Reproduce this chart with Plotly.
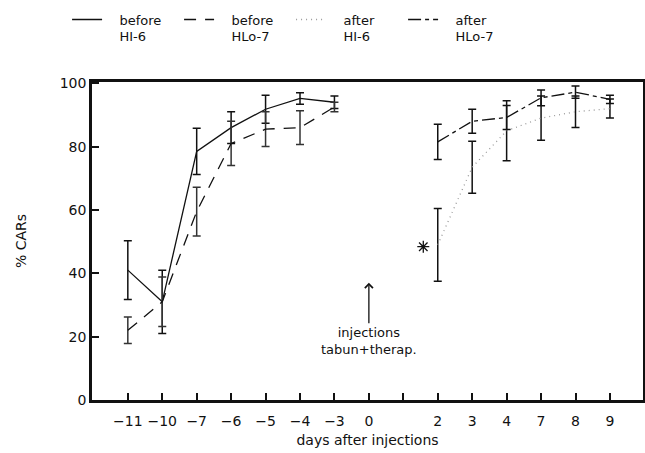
import plotly.graph_objects as go

# ---- data ----
tick_labels = ["−11", "−10", "−7", "−6", "−5", "−4", "−3", "0", "", "2", "3", "4", "7", "8", "9"]

before_days = ["−11", "−10", "−7", "−6", "−5", "−4", "−3"]
after_days = ["2", "3", "4", "7", "8", "9"]

before_hi6 = [41, 31, 78.5, 86, 91.8, 95.2, 94]
before_hi6_err = [9.3, 10, 7.3, 5, 4.4, 1.8, 2]

before_hlo7 = [22, 31, 59.5, 81, 85.5, 86, 92.5]
before_hlo7_err = [4.2, 7.8, 7.7, 7, 5.5, 5.3, 1.5]

after_hi6 = [49, 73.5, 85, 89, 91, 92]
after_hi6_err = [11.5, 8.2, 9.5, 7, 5, 3]

after_hlo7 = [81.5, 88, 89.2, 95.4, 97.2, 94.9]
after_hlo7_err = [5.6, 3.8, 3.8, 2.5, 1.9, 1.3]

series_names = [("before", "HI-6"), ("before", "HLo-7"), ("after", "HI-6"), ("after", "HLo-7")]

star_value = 48.4
star_day = "2"
star_shift = -0.42

injection_day = "0"
injection_arrow_value = 37
y_ticks = [0, 20, 40, 60, 80, 100]

# ---- positions derived from tick labels ----
tick_pos = list(range(len(tick_labels)))
bx = [tick_labels.index(d) for d in before_days]
axx = [tick_labels.index(d) for d in after_days]

FONT = "DejaVu Sans"
INK = "#111111"
PAD = "\u00a0\u00a0\u00a0"


def legend_name(pair):
    return PAD + pair[0] + "<br>" + PAD + pair[1]


def err(vals, color=INK):
    return dict(type="data", array=vals, visible=True, thickness=1.5,
                width=4, color=color)


fig = go.Figure()
fig.add_trace(go.Scatter(
    x=bx, y=before_hi6, mode="lines", name=legend_name(series_names[0]),
    line=dict(color=INK, width=1.3, dash="solid"),
    error_y=err(before_hi6_err)))
fig.add_trace(go.Scatter(
    x=bx, y=before_hlo7, mode="lines", name=legend_name(series_names[1]),
    line=dict(color=INK, width=1.3, dash="12px,9px"),
    error_y=err(before_hlo7_err, "#333333")))
fig.add_trace(go.Scatter(
    x=axx, y=after_hi6, mode="lines", name=legend_name(series_names[2]),
    line=dict(color="#9a9a9a", width=1.3, dash="1px,4px"),
    error_y=err(after_hi6_err)))
fig.add_trace(go.Scatter(
    x=axx, y=after_hlo7, mode="lines", name=legend_name(series_names[3]),
    line=dict(color=INK, width=1.3, dash="13px,4px,4px,4px"),
    error_y=err(after_hlo7_err)))
fig.add_trace(go.Scatter(
    x=[tick_labels.index(star_day) + star_shift], y=[star_value],
    mode="markers", showlegend=False,
    marker=dict(symbol="asterisk-open", size=10, color=INK,
                line=dict(color=INK, width=1.3))))

fig.add_annotation(
    x=tick_labels.index(injection_day), y=injection_arrow_value,
    xref="x", yref="y", text="injections<br>tabun+therap.",
    showarrow=True, ax=0, ay=58, arrowhead=4, arrowsize=1.2,
    arrowwidth=1.3, arrowcolor=INK, xanchor="center",
    font=dict(family=FONT, size=13, color=INK))

fig.update_layout(
    width=645, height=453,
    margin=dict(l=92, r=2, t=82, b=53, autoexpand=False),
    paper_bgcolor="white", plot_bgcolor="white",
    font=dict(family=FONT, size=13, color=INK),
    showlegend=True,
    legend=dict(orientation="h", x=0.104, y=0.99, xanchor="left", yanchor="top",
                xref="container", yref="container",
                entrywidth=67, entrywidthmode="pixels",
                valign="top", font=dict(family=FONT, size=13, color=INK),
                bgcolor="rgba(0,0,0,0)", itemwidth=30),
    xaxis=dict(range=[-1.04, 14.96], tickvals=tick_pos, ticktext=tick_labels,
               ticks="inside", ticklen=7, tickwidth=2, tickcolor=INK,
               showline=True, linewidth=2.5, linecolor=INK, mirror=True,
               showgrid=False, zeroline=False, automargin=False,
               tickfont=dict(family=FONT, size=14, color=INK),
               ticklabelstandoff=6,
               title=dict(text="days after injections", standoff=8,
                          font=dict(family=FONT, size=14, color=INK))),
    yaxis=dict(range=[0, 100.4], tickvals=y_ticks,
               ticks="inside", ticklen=7, tickwidth=2, tickcolor=INK,
               showline=True, linewidth=2.5, linecolor=INK, mirror=True,
               showgrid=False, zeroline=False, automargin=False,
               tickfont=dict(family=FONT, size=14, color=INK),
               title=dict(text="% CARs", standoff=30,
                          font=dict(family=FONT, size=14, color=INK))),
)

fig.write_html("out.html", config={"displayModeBar": False},
               post_script="document.body.style.margin='0';")
